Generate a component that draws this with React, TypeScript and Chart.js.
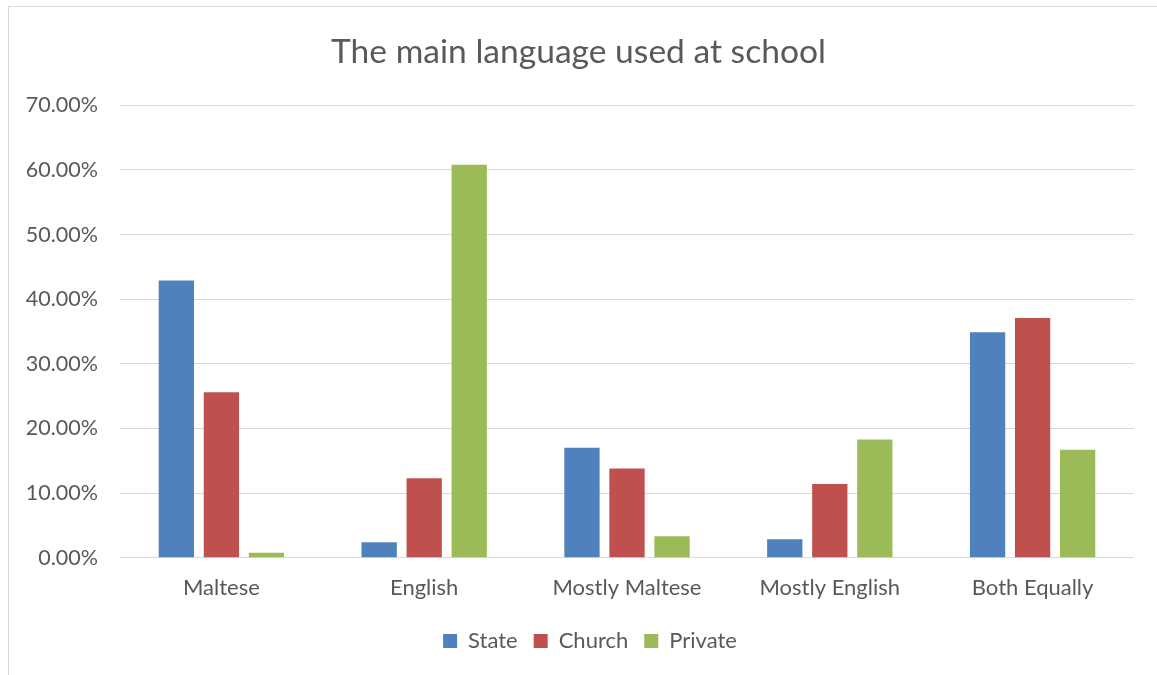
import React, { useEffect, useRef } from "react";
import { Chart, registerables } from "chart.js";

Chart.register(...registerables);

const categories = ["Maltese", "English", "Mostly Maltese", "Mostly English", "Both Equally"];
const stateValues = [42.9, 2.4, 17.0, 2.85, 34.9];
const churchValues = [25.6, 12.3, 13.8, 11.4, 37.1];
const privateValues = [0.77, 60.8, 3.3, 18.3, 16.7];
const seriesNames = ["State", "Church", "Private"];
const seriesColors = ["#4F81BD", "#C0504D", "#9BBB59"];
const titleText = "The main language used at school";

const FONT = "Lato, 'Open Sans', sans-serif";
const TEXT = "#595959";
const GRID = "#D9D9D9";

const borderPlugin = {
  id: "outerBorder",
  beforeDraw(chart: any) {
    const ctx = chart.ctx;
    ctx.save();
    ctx.fillStyle = "#ffffff";
    ctx.fillRect(0, 0, chart.width, chart.height);
    ctx.strokeStyle = GRID;
    ctx.lineWidth = 1;
    ctx.strokeRect(8.5, 6.5, 1400, 1000);
    ctx.restore();
  },
};

const legendShiftPlugin = {
  id: "legendShift",
  afterLayout(chart: any) {
    const lg = chart.legend;
    if (lg) {
      lg.top -= 4.7;
      lg.bottom -= 4.7;
      lg.left += 11.5;
      lg.right += 11.5;
    }
  },
};

export default function App() {
  const ref = useRef<HTMLCanvasElement | null>(null);
  useEffect(() => {
    if (!ref.current) return;
    const chart = new Chart(ref.current, {
      type: "bar",
      data: {
        labels: categories,
        datasets: [stateValues, churchValues, privateValues].map((vals, i) => ({
          label: seriesNames[i],
          data: vals,
          backgroundColor: seriesColors[i],
          borderWidth: 0,
          categoryPercentage: 0.666,
          barPercentage: 0.784,
          yAxisID: "y",
        })),
      },
      options: {
        responsive: false,
        animation: false,
        layout: { padding: { left: 0, right: 0, top: 0, bottom: 8.3 } },
        plugins: {
          title: {
            display: true,
            text: titleText,
            color: TEXT,
            font: { family: FONT, size: 33.6, weight: "normal" },
            padding: { top: 32.5, bottom: 32.5 },
          },
          legend: {
            display: true,
            position: "bottom",
            labels: {
              color: TEXT,
              font: { family: FONT, size: 22 },
              boxWidth: 14,
              boxHeight: 14,
              padding: 16,
            },
          },
          tooltip: { enabled: false },
        },
        scales: {
          x: {
            grid: { display: false, drawTicks: false },
            border: { display: false },
            ticks: {
              color: TEXT,
              font: { family: FONT, size: 22, lineHeight: 1.2 },
              padding: 17.3,
            },
          },
          y: {
            min: 0,
            max: 70,
            grid: { color: GRID, lineWidth: 1, drawTicks: false },
            border: { display: false },
            ticks: {
              stepSize: 10,
              color: TEXT,
              font: { family: FONT, size: 21.5 },
              padding: 22,
              callback: (v: any) => Number(v).toFixed(2) + "%",
            },
            afterFit: (s: any) => {
              s.width = 120;
            },
          },
          y2: {
            position: "right",
            display: true,
            grid: { display: false, drawTicks: false },
            border: { display: false },
            ticks: { display: false },
            afterFit: (s: any) => {
              s.width = 23;
            },
          },
        },
      },
      plugins: [borderPlugin, legendShiftPlugin],
    });
    return () => chart.destroy();
  }, []);
  return (
    <div style={{ position: "absolute", left: 0, top: 0, width: 1157, height: 675 }}>
      <canvas ref={ref} width={1157} height={675} style={{ display: "block" }} />
    </div>
  );
}
